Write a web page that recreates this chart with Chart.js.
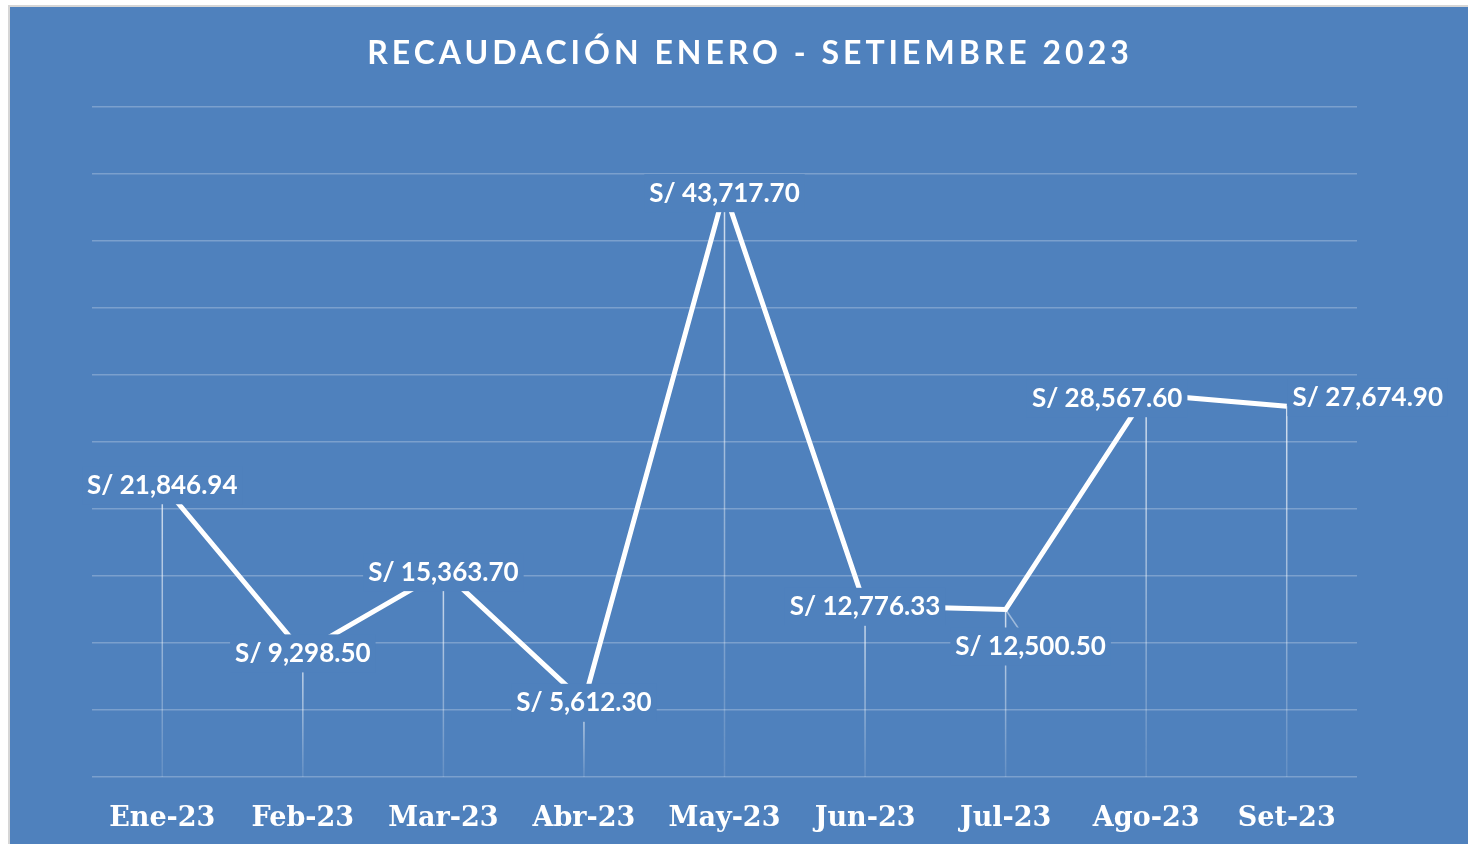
<!DOCTYPE html>
<html>
<head>
<meta charset="utf-8">
<script src="https://cdn.jsdelivr.net/npm/chart.js@4.4.0/dist/chart.umd.min.js"></script>
<style>
  body { margin: 0; background: #ffffff; }
  #frame {
    position: absolute; left: 8px; top: 5px; width: 1460px; height: 839px;
    background: #d6d6d6;
  }
  #box {
    position: absolute; left: 10px; top: 7px; width: 1458px; height: 837px;
    background: #4f81bd;
  }
</style>
</head>
<body>
<div id="frame"></div>
<div id="box"><canvas id="myChart" width="1458" height="837"></canvas></div>
<script>
// data
var months = ['Ene-23', 'Feb-23', 'Mar-23', 'Abr-23', 'May-23', 'Jun-23', 'Jul-23', 'Ago-23', 'Set-23'];
var recaudacion = [21846.94, 9298.50, 15363.70, 5612.30, 43717.70, 12776.33, 12500.50, 28567.60, 27674.90];
var titleText = 'RECAUDACIÓN ENERO - SETIEMBRE 2023';

// label offsets in px (dx, dy) from the point
var labelShift = [[0, 1], [0, 1], [0, 1], [0, 1], [0, 2], [0, 1], [25, 37], [-39, 4], [81, -9]];

var BG = '#4f81bd';

function fmtSoles(v) {
    return 'S/ ' + v.toLocaleString('en-US', { minimumFractionDigits: 2, maximumFractionDigits: 2 });
}

var dropLines = {
    id: 'dropLines',
    beforeDatasetsDraw: function (chart) {
        var ctx = chart.ctx;
        var meta = chart.getDatasetMeta(0);
        var bottom = chart.chartArea.bottom;
        ctx.save();
        meta.data.forEach(function (pt) {
            var g = ctx.createLinearGradient(0, pt.y, 0, bottom);
            g.addColorStop(0, 'rgba(255,255,255,0.75)');
            g.addColorStop(1, 'rgba(255,255,255,0.12)');
            ctx.strokeStyle = g;
            ctx.lineWidth = 1.5;
            ctx.beginPath();
            ctx.moveTo(pt.x, pt.y);
            ctx.lineTo(pt.x, bottom);
            ctx.stroke();
        });
        ctx.restore();
    }
};

var valueLabels = {
    id: 'valueLabels',
    afterDatasetsDraw: function (chart) {
        var ctx = chart.ctx;
        var meta = chart.getDatasetMeta(0);
        ctx.save();
        ctx.font = 'bold 26px Lato';
        ctx.textAlign = 'center';
        ctx.textBaseline = 'middle';
        meta.data.forEach(function (pt, i) {
            var txt = fmtSoles(recaudacion[i]);
            var dx = labelShift[i][0], dy = labelShift[i][1];
            var cx = pt.x + dx, cy = pt.y + dy;
            if (dy > 10) {
                // leader line
                ctx.strokeStyle = 'rgba(255,255,255,0.45)';
                ctx.lineWidth = 1.5;
                ctx.beginPath();
                ctx.moveTo(pt.x, pt.y);
                ctx.lineTo(cx, cy);
                ctx.stroke();
            }
            var w = ctx.measureText(txt).width + 10;
            ctx.fillStyle = BG;
            ctx.fillRect(cx - w / 2, cy - 19, w, 38);
            ctx.fillStyle = '#ffffff';
            ctx.fillText(txt, cx, cy);
        });
        ctx.restore();
    }
};

var spacedTitle = {
    id: 'spacedTitle',
    afterDraw: function (chart) {
        var ctx = chart.ctx;
        ctx.save();
        ctx.font = 'bold 32px Lato';
        ctx.letterSpacing = '4px';
        ctx.fillStyle = '#ffffff';
        ctx.textAlign = 'center';
        ctx.textBaseline = 'middle';
        ctx.fillText(titleText, 740, 47);
        ctx.restore();
    }
};

var ctx = document.getElementById('myChart').getContext('2d');
var myChart = new Chart(ctx, {
    type: 'line',
    data: {
        labels: months,
        datasets: [{
            label: 'Recaudación',
            data: recaudacion,
            borderColor: '#ffffff',
            borderWidth: 5,
            pointRadius: 0,
            tension: 0,
            fill: false
        }]
    },
    options: {
        responsive: false,
        animation: false,
        layout: { padding: { left: 82, right: 111, top: 100, bottom: 0 } },
        plugins: {
            legend: { display: false },
            title: { display: false },
            tooltip: { enabled: false }
        },
        scales: {
            x: {
                offset: true,
                grid: { display: false, drawTicks: false },
                border: { display: false },
                afterFit: function (scale) { scale.height = 67; },
                ticks: {
                    color: '#ffffff',
                    padding: 26,
                    maxRotation: 0,
                    font: { family: 'DejaVu Serif', weight: 'bold', size: 27 }
                }
            },
            y: {
                min: 0,
                max: 50000,
                grid: { color: 'rgba(255,255,255,0.25)', lineWidth: 1.5, drawTicks: false },
                border: { display: false },
                ticks: { display: false, stepSize: 5000 }
            }
        }
    },
    plugins: [dropLines, valueLabels, spacedTitle]
});
</script>
</body>
</html>
